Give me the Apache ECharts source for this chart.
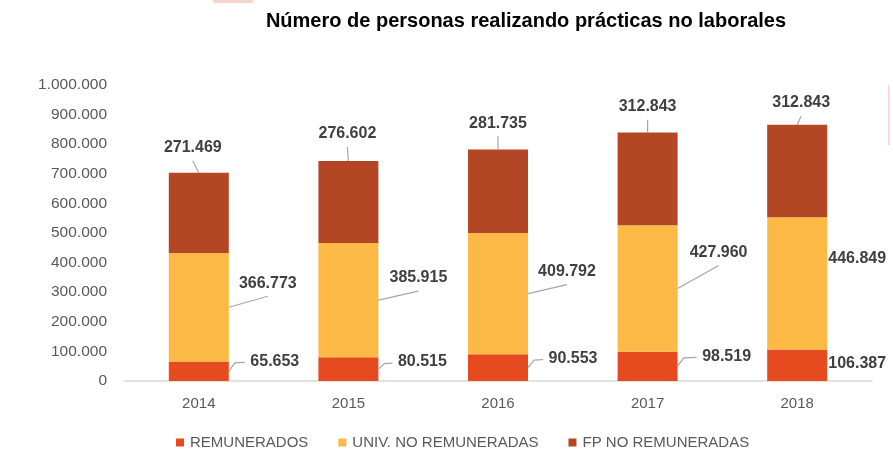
<!DOCTYPE html>
<html>
<head>
<meta charset="utf-8">
<script src="https://cdn.jsdelivr.net/npm/echarts@6/dist/echarts.min.js"></script>
<style>
  html, body { margin: 0; padding: 0; background: #ffffff; }
  #chart { width: 893px; height: 458px; }
</style>
</head>
<body>
<div id="chart"></div>
<script>
// ---- data ----
const categories = ['2014', '2015', '2016', '2017', '2018'];
const remunerados = [65653, 80515, 90553, 98519, 106387];
const univNoRemuneradas = [366773, 385915, 409792, 427960, 446849];
const fpNoRemuneradas = [271469, 276602, 281735, 312843, 312843];
const seriesNames = ['REMUNERADOS', 'UNIV. NO REMUNERADAS', 'FP NO REMUNERADAS'];
const yTicks = { min: 0, max: 1000000, interval: 100000 };

// ---- label offsets (label placement only, pixels) ----
const remOffsets = [[76, -10], [74, -7], [75, -9], [79, -10], [60, -2]];
const univOffsets = [[69, -24], [70, -22], [69, -22], [71, -36], [60, -25]];
const fpOffsets = [[-6, -65], [-1, -68], [0, -68], [0, -72], [4, -68]];
const BAR_WIDTH = 60;

function fmt(v) {
  return String(v).replace(/\B(?=(\d{3})+(?!\d))/g, '.');
}

const labelStyle = {
  show: true,
  position: 'inside',
  fontFamily: 'Liberation Sans, Arial, sans-serif',
  fontSize: 16,
  fontWeight: 'bold',
  color: '#404040',
  formatter: p => fmt(p.value)
};

function mkSeries(name, data, color, offsets) {
  return {
    name: name,
    type: 'bar',
    stack: 'total',
    barWidth: BAR_WIDTH,
    data: data,
    itemStyle: { color: color },
    label: labelStyle,
    labelLayout: p => ({ dx: offsets[p.dataIndex][0], dy: offsets[p.dataIndex][1] }),
    emphasis: { disabled: true },
    animation: false
  };
}

// leader lines drawn from the same values through the axis scales
function renderGuides(params, api) {
  const i = api.value(0);
  const last = i === categories.length - 1;
  const base = api.coord([i, 0]);
  const remTop = api.coord([i, remunerados[i]]);
  const univTop = api.coord([i, remunerados[i] + univNoRemuneradas[i]]);
  const fpTop = api.coord([i, remunerados[i] + univNoRemuneradas[i] + fpNoRemuneradas[i]]);
  const cx = base[0];
  const right = cx + BAR_WIDTH / 2;
  const style = { stroke: '#a6a6a6', lineWidth: 1.2, fill: null };
  const children = [];

  // top segment -> label above
  const fpCy = (univTop[1] + fpTop[1]) / 2;
  const fpL = [cx + fpOffsets[i][0], fpCy + fpOffsets[i][1]];
  children.push({ type: 'polyline', shape: { points: [[cx, fpTop[1]], [fpL[0], fpL[1] + 13]] }, style: style });

  if (!last) {
    // middle segment -> label to the upper right
    const uCy = (remTop[1] + univTop[1]) / 2;
    const uL = [cx + univOffsets[i][0], uCy + univOffsets[i][1]];
    children.push({ type: 'polyline', shape: { points: [[right, uCy], [uL[0], uL[1] + 13]] }, style: style });

    // bottom segment -> label to the right
    const rCy = (base[1] + remTop[1]) / 2;
    const rL = [cx + remOffsets[i][0], rCy + remOffsets[i][1]];
    children.push({ type: 'polyline', shape: { points: [[right, rCy], [right + 6, rL[1] + 1.5], [rL[0] - 30, rL[1] + 1]] }, style: style });
  }
  return { type: 'group', children: children };
}

const chart = echarts.init(document.getElementById('chart'), null, { renderer: 'canvas' });
chart.setOption({
  backgroundColor: '#ffffff',
  animation: false,
  title: {
    text: 'Número de personas realizando prácticas no laborales',
    left: 521,
    textAlign: 'center',
    top: 6,
    textStyle: {
      fontFamily: 'Liberation Sans, Arial, sans-serif',
      fontSize: 20,
      fontWeight: 'bold',
      color: '#000000'
    }
  },
  legend: {
    left: 171,
    top: 430,
    itemWidth: 8,
    itemHeight: 8,
    itemGap: 30,
    icon: 'rect',
    textStyle: {
      fontFamily: 'Liberation Sans, Arial, sans-serif',
      fontSize: 15,
      color: '#595959',
      padding: [0, 0, 0, 1]
    },
    data: seriesNames
  },
  grid: { left: 124, right: 21, top: 85, bottom: 77 },
  xAxis: {
    type: 'category',
    data: categories,
    axisLine: { lineStyle: { color: '#d9d9d9', width: 1.5 } },
    axisTick: { show: false },
    axisLabel: {
      margin: 15,
      fontFamily: 'Liberation Sans, Arial, sans-serif',
      fontSize: 15,
      color: '#595959'
    }
  },
  yAxis: {
    type: 'value',
    min: yTicks.min,
    max: yTicks.max,
    interval: yTicks.interval,
    splitLine: { show: false },
    axisLine: { show: false },
    axisTick: { show: false },
    axisLabel: {
      margin: 17,
      fontFamily: 'Liberation Sans, Arial, sans-serif',
      fontSize: 15.5,
      color: '#595959',
      formatter: v => fmt(v)
    }
  },
  graphic: [
    { type: 'rect', shape: { x: 213, y: 0, width: 40, height: 3 }, style: { fill: '#f6d3cf' }, silent: true },
    { type: 'rect', shape: { x: 888, y: 85, width: 1.5, height: 60 }, style: { fill: '#f6d3cf' }, silent: true }
  ],
  series: [
    mkSeries(seriesNames[0], remunerados, '#e64a1f', remOffsets),
    mkSeries(seriesNames[1], univNoRemuneradas, '#fdb945', univOffsets),
    mkSeries(seriesNames[2], fpNoRemuneradas, '#b34624', fpOffsets),
    {
      type: 'custom',
      name: 'guides',
      renderItem: renderGuides,
      data: categories.map((c, i) => [i]),
      encode: { x: 0 },
      silent: true,
      z: 3,
      animation: false
    }
  ]
});
</script>
</body>
</html>
